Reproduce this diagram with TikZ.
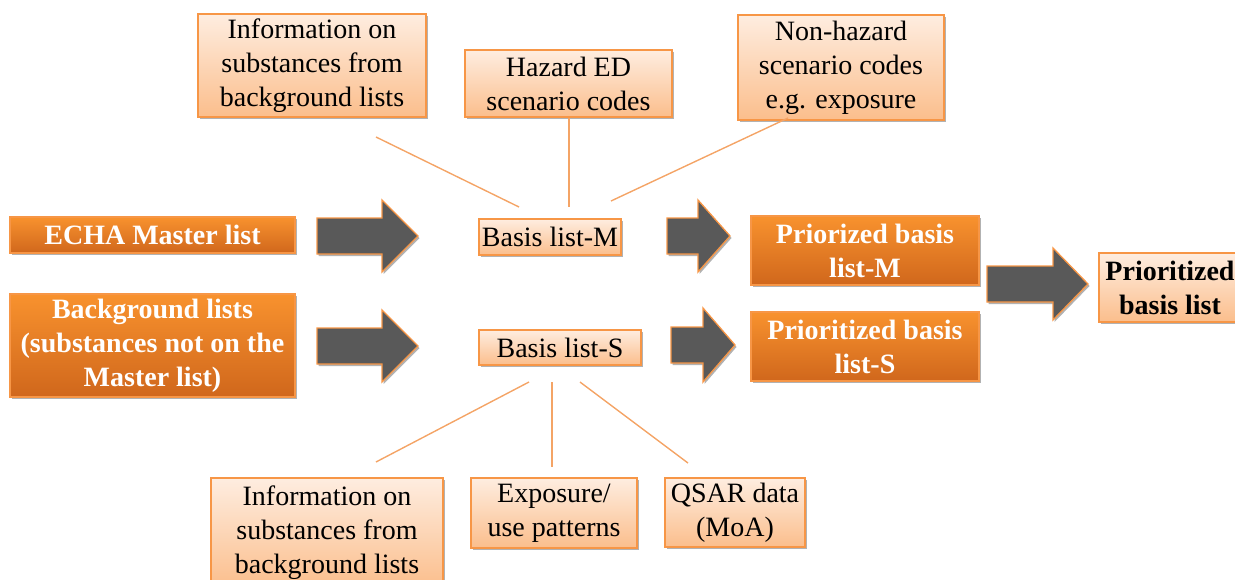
\documentclass[tikz,border=0pt]{standalone}
\usepackage{fontspec}
\setmainfont{Liberation Serif}
\usetikzlibrary{shadows}
\definecolor{orb}{HTML}{F79646}
\definecolor{lighttop}{HTML}{FEEDE0}
\definecolor{lightbot}{HTML}{FBBE8C}
\definecolor{darktop}{HTML}{F8922E}
\definecolor{darkbot}{HTML}{D0671C}
\definecolor{arrowgrey}{HTML}{595959}
\definecolor{linecol}{HTML}{F4A466}
\tikzset{
  shadowed/.style={drop shadow={shadow xshift=1.5pt, shadow yshift=-2pt, opacity=0.3, fill=black}},
  lightbox/.style={shadowed, draw=orb, line width=1.3pt, top color=lighttop, bottom color=lightbot,
    inner sep=0pt, align=center, text=black, font=\fontsize{28}{34}\selectfont},
  darkbox/.style={shadowed, draw=orb, line width=1.3pt, top color=darktop, bottom color=darkbot,
    inner sep=0pt, align=center, text=white, font=\fontsize{28}{34}\selectfont\bfseries},
  fatarrow/.style={shadowed, fill=arrowgrey, draw=orb, line width=1.3pt, line join=miter},
  link/.style={draw=linecol, line width=1.4pt}
}
\begin{document}
\begin{tikzpicture}[x=1pt, y=-1pt]
\useasboundingbox (0,0) rectangle (1235,579);

% top info boxes
\node[lightbox, minimum width=228pt, minimum height=103pt] (infoT) at (312,65.5)
  {Information on\\substances from\\background lists};
\node[lightbox, minimum width=207pt, minimum height=67pt] (haz) at (568.5,83.5)
  {Hazard ED\\scenario codes};
\node[lightbox, minimum width=206pt, minimum height=105pt] (nonhaz) at (841,67.5)
  {Non-hazard\\scenario codes\\e.g. exposure};

% left input boxes
\node[darkbox, minimum width=285pt, minimum height=36pt] (echa) at (152.5,235)
  {ECHA Master list};
\node[darkbox, minimum width=285pt, minimum height=103pt] (bg) at (152.5,345.5)
  {Background lists\\(substances not on the\\Master list)};

% basis lists
\node[lightbox, minimum width=142pt, minimum height=36pt] (basisM) at (550,237)
  {Basis list-M};
\node[lightbox, minimum width=162pt, minimum height=35pt] (basisS) at (560,347.5)
  {Basis list-S};

% prioritized lists
\node[darkbox, minimum width=228pt, minimum height=69pt] (priM) at (865,250.5)
  {Priorized basis\\list-M};
\node[darkbox, minimum width=228pt, minimum height=69pt] (priS) at (865,346.5)
  {Prioritized basis\\list-S};
\node[lightbox, minimum width=142pt, minimum height=69pt, font=\fontsize{28}{34}\selectfont\bfseries] (final) at (1170,287.5)
  {Prioritized\\basis list};

% bottom info boxes
\node[lightbox, minimum width=232pt, minimum height=110pt] (infoB) at (327,533)
  {Information on\\substances from\\background lists};
\node[lightbox, minimum width=166pt, minimum height=70pt] (expo) at (554,513)
  {Exposure/\\use patterns};
\node[lightbox, minimum width=140pt, minimum height=69pt] (qsar) at (735,512.5)
  {QSAR data\\(MoA)};

% block arrows
\draw[fatarrow] (317,218)--(382,218)--(382,200)--(418,236)--(382,272)--(382,254)--(317,254)--cycle;
\draw[fatarrow] (317,328)--(382,328)--(382,310)--(418,346)--(382,382)--(382,364)--(317,364)--cycle;
\draw[fatarrow] (667,218)--(698,218)--(698,200)--(730,236)--(698,272)--(698,254)--(667,254)--cycle;
\draw[fatarrow] (671,327)--(703,327)--(703,308)--(735,345)--(703,382)--(703,363)--(671,363)--cycle;
\draw[fatarrow] (987,266)--(1053,266)--(1053,248)--(1088,284)--(1053,320)--(1053,302)--(987,302)--cycle;

% connector end points
\coordinate (t1a) at (376,137);
\coordinate (t1b) at (519,207);
\coordinate (t2b) at (569,207);
\coordinate (t3a) at (788,118);
\coordinate (t3b) at (611,201);
\coordinate (b1a) at (529,382);
\coordinate (b1b) at (376,462);
\coordinate (b2a) at (552,382);
\coordinate (b2b) at (552,467);
\coordinate (b3a) at (580,382);
\coordinate (b3b) at (688,463);

\draw[link] (t1a) -- (t1b);
\draw[link] (haz.south -| t2b) -- (t2b);
\draw[link] (t3a) -- (t3b);
\draw[link] (b1a) -- (b1b);
\draw[link] (b2a) -- (b2b);
\draw[link] (b3a) -- (b3b);
\end{tikzpicture}
\end{document}
